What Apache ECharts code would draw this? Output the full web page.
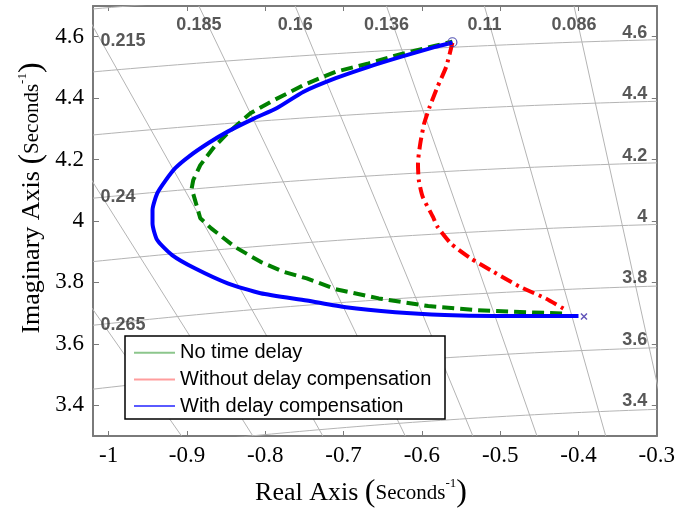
<!DOCTYPE html>
<html>
<head>
<meta charset="utf-8">
<script src="https://cdn.jsdelivr.net/npm/echarts@6/dist/echarts.min.js"></script>
<style>
  html, body { margin: 0; padding: 0; background: #fff; }
  #chart { width: 678px; height: 508px; }
</style>
</head>
<body>
<div id="chart"></div>
<script>
// root locus branches, [real, imag]
const noDelay = [
  [-0.421, 3.699], [-0.467, 3.703], [-0.530, 3.710], [-0.592, 3.723], [-0.655, 3.748],
  [-0.710, 3.778], [-0.747, 3.813], [-0.777, 3.835], [-0.806, 3.867], [-0.839, 3.916],
  [-0.869, 3.976], [-0.883, 4.009], [-0.894, 4.106], [-0.892, 4.133], [-0.883, 4.182],
  [-0.865, 4.242], [-0.848, 4.286], [-0.819, 4.351], [-0.793, 4.388], [-0.751, 4.443],
  [-0.710, 4.486], [-0.668, 4.513], [-0.626, 4.544], [-0.584, 4.570], [-0.561, 4.584]
];
const withoutComp = [
  [-0.561, 4.580], [-0.569, 4.502], [-0.580, 4.437], [-0.590, 4.372], [-0.597, 4.318],
  [-0.602, 4.253], [-0.605, 4.188], [-0.604, 4.134], [-0.599, 4.079], [-0.586, 4.014],
  [-0.580, 3.981], [-0.563, 3.927], [-0.538, 3.879], [-0.509, 3.835], [-0.475, 3.786],
  [-0.442, 3.748], [-0.418, 3.713]
];
const withComp = [
  [-0.400, 3.691], [-0.509, 3.691], [-0.571, 3.694], [-0.634, 3.703], [-0.697, 3.719],
  [-0.747, 3.741], [-0.806, 3.765], [-0.848, 3.797], [-0.890, 3.846], [-0.919, 3.889],
  [-0.938, 3.938], [-0.944, 3.992], [-0.944, 4.036], [-0.938, 4.090], [-0.927, 4.133],
  [-0.915, 4.172], [-0.898, 4.209], [-0.873, 4.253], [-0.848, 4.291], [-0.814, 4.334],
  [-0.785, 4.368], [-0.751, 4.421], [-0.710, 4.465], [-0.668, 4.502], [-0.626, 4.535],
  [-0.584, 4.566], [-0.561, 4.581]
];
const poles = [[-0.393, 3.689]];
const zeros = [[-0.561, 4.582]];

const xTicks = [-1, -0.9, -0.8, -0.7, -0.6, -0.5, -0.4, -0.3];
const yTicks = [3.4, 3.6, 3.8, 4, 4.2, 4.4, 4.6];

// sgrid: damping ratios and natural frequencies
const zetas = [0.086, 0.11, 0.136, 0.16, 0.185, 0.215, 0.24, 0.265];
const wns = [3.4, 3.6, 3.8, 4, 4.2, 4.4, 4.6, 4.8];

const xMin = -1.02, xMax = -0.3, yMin = 3.3, yMax = 4.7;

const gridColor = '#b4b4b4';
const axisColor = '#7a7a7a';
const labelFont = { fontFamily: 'Liberation Sans', fontWeight: 'bold', fontSize: 18, color: '#2e2e2e' };

const series = [];

// damping lines through the origin
zetas.forEach(z => {
  const k = z / Math.sqrt(1 - z * z);
  series.push({
    type: 'line', silent: true, symbol: 'none', z: 1,
    lineStyle: { color: gridColor, width: 1 },
    data: [[-yMin * k, yMin], [-yMax * k, yMax]]
  });
});
// natural frequency circles
wns.forEach(w => {
  const pts = [];
  for (let i = 0; i <= 60; i++) {
    const x = xMin + (xMax - xMin) * i / 60;
    if (w * w - x * x > 0) pts.push([x, Math.sqrt(w * w - x * x)]);
  }
  series.push({
    type: 'line', silent: true, symbol: 'none', z: 1,
    lineStyle: { color: gridColor, width: 1 },
    data: pts
  });
});

// sgrid labels
const topLbl = [], leftLbl = [];
zetas.forEach(z => {
  const k = z / Math.sqrt(1 - z * z);
  if (-yMax * k >= xMin) topLbl.push({ value: [-yMax * k, yMax], name: String(z) });
  else leftLbl.push({ value: [xMin, -xMin / k], name: String(z) });
});
const rightLbl = wns.filter(w => w <= 4.6).map(w => ({ value: [xMax, w], name: String(w) }));

const lblSeries = (data, label) => ({
  type: 'scatter', silent: true, clip: false, symbolSize: 1, z: 1,
  itemStyle: { color: 'rgba(0,0,0,0)' },
  label: Object.assign({ show: true, formatter: p => p.name }, labelFont, label),
  data
});
series.push(lblSeries(topLbl, { position: 'bottom', distance: 10 }));
series.push(lblSeries(leftLbl, { position: 'right', distance: 7, offset: [0, 15] }));
series.push(lblSeries(rightLbl, { position: 'left', distance: 9, offset: [0, -4] }));

series.push({
  name: 'No time delay', type: 'line', symbol: 'none', z: 2,
  lineStyle: { color: '#008000', width: 4, type: [12, 6] },
  data: noDelay
});
series.push({
  name: 'Without delay compensation', type: 'line', symbol: 'none', z: 2, smooth: 0.2,
  lineStyle: { color: '#ff0000', width: 4, type: [12, 5, 3, 5] },
  data: withoutComp
});
series.push({
  name: 'With delay compensation', type: 'line', symbol: 'none', z: 2, smooth: 0.2,
  lineStyle: { color: '#0000ff', width: 4 },
  data: withComp
});
series.push({
  type: 'scatter', silent: true, z: 3,
  symbol: 'path://M0,0L10,10M10,0L0,10', symbolSize: 6,
  itemStyle: { color: 'none', borderColor: '#3b2aa8', borderWidth: 1.5 },
  data: poles
});
series.push({
  type: 'scatter', silent: true, z: 3,
  symbol: 'circle', symbolSize: 9,
  itemStyle: { color: 'none', borderColor: '#2a2aa0', borderWidth: 1.2 },
  data: zeros
});

const tickLine = { lineStyle: { color: axisColor, width: 1 } };
const axisLine = { show: true, onZero: false, lineStyle: { color: axisColor, width: 2 } };
const axisText = { fontFamily: 'Liberation Serif', fontSize: 23, color: '#000' };

// axis titles with superscript unit
const titleRich = {
  a: { fontFamily: 'Liberation Serif', fontSize: 26 },
  p: { fontFamily: 'Liberation Serif', fontSize: 32 },
  s: { fontFamily: 'Liberation Serif', fontSize: 21 },
  e: { fontFamily: 'Liberation Serif', fontSize: 13, verticalAlign: 'top' }
};

const option = {
  animation: false,
  backgroundColor: '#fff',
  grid: { left: 93, right: 12, top: 6, bottom: 72 },
  xAxis: [
    {
      type: 'value', min: xMin, max: xMax, position: 'bottom',
      axisLine: axisLine,
      axisTick: Object.assign({ inside: true, length: 5, customValues: xTicks }, tickLine),
      axisLabel: Object.assign({ customValues: xTicks, margin: 8 }, axisText),
      splitLine: { show: false }
    },
    {
      type: 'value', min: xMin, max: xMax, position: 'top',
      axisLine: axisLine,
      axisTick: Object.assign({ inside: true, length: 5, customValues: xTicks }, tickLine),
      axisLabel: { show: false },
      splitLine: { show: false }
    }
  ],
  yAxis: [
    {
      type: 'value', min: yMin, max: yMax, position: 'left',
      axisLine: axisLine,
      axisTick: Object.assign({ inside: true, length: 6, customValues: yTicks }, tickLine),
      axisLabel: Object.assign({ customValues: yTicks, margin: 9 }, axisText),
      splitLine: { show: false }
    },
    {
      type: 'value', min: yMin, max: yMax, position: 'right',
      axisLine: axisLine,
      axisTick: Object.assign({ inside: true, length: 5, customValues: yTicks }, tickLine),
      axisLabel: { show: false },
      splitLine: { show: false }
    }
  ],
  legend: {
    orient: 'vertical', left: 134, top: 342.2, padding: 0, z: 10,
    itemWidth: 41, itemHeight: 2, itemGap: 5.7, icon: 'rect',
    textStyle: { fontFamily: 'Liberation Sans', fontSize: 20, lineHeight: 21, color: '#000' },
    data: [
      { name: 'No time delay', itemStyle: { color: '#8cc68c' } },
      { name: 'Without delay compensation', itemStyle: { color: '#ff9d9d' } },
      { name: 'With delay compensation', itemStyle: { color: '#5a5aff' } }
    ]
  },
  graphic: [
    {
      type: 'rect', z: 5,
      shape: { x: 125, y: 336, width: 320, height: 83 },
      style: { fill: '#fff', stroke: '#000', lineWidth: 1.5 }
    },
    {
      type: 'text', x: 361, y: 493, z: 5,
      style: {
        text: '{a|Real Axis }{p|(}{s|Seconds}{e|-1}{p|)}',
        align: 'center', verticalAlign: 'middle', fill: '#000', rich: titleRich
      }
    },
    {
      type: 'text', x: 32, y: 198, z: 5, rotation: Math.PI / 2,
      style: {
        text: '{a|Imaginary Axis }{p|(}{s|Seconds}{e|-1}{p|)}',
        align: 'center', verticalAlign: 'middle', fill: '#000', rich: titleRich
      }
    }
  ],
  series: series
};

const chart = echarts.init(document.getElementById('chart'));
chart.setOption(option);
window.addEventListener('resize', () => chart.resize());
</script>
</body>
</html>
